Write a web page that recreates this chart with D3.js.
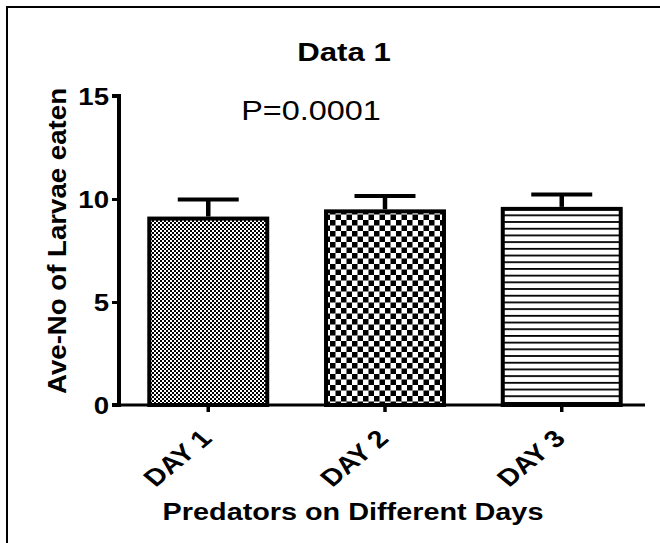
<!DOCTYPE html>
<html><head><meta charset="utf-8">
<script src="https://cdn.jsdelivr.net/npm/d3@7"></script>
<style>body{margin:0;background:#fff}svg{display:block;font-family:Arial,"Liberation Sans",sans-serif}</style>
</head><body>
<svg id="c" width="660" height="543"></svg>
<script>
const categories = ["DAY 1", "DAY 2", "DAY 3"];
const means = [9.05, 9.4, 9.52];
const errors = [0.93, 0.75, 0.7];
const yTicks = [0, 5, 10, 15];
const patterns = ["fineCheck", "bigCheck", "hLines"];

const SX = 1.2; // horizontal stretch of the reference text
const FONT = "Arial, 'Liberation Sans', sans-serif";
const svg = d3.select("#c");
const defs = svg.append("defs");
let p = defs.append("pattern").attr("id","fineCheck").attr("patternUnits","userSpaceOnUse").attr("width",4).attr("height",4);
p.append("rect").attr("width",4).attr("height",4).attr("fill","#fff");
p.append("rect").attr("width",2).attr("height",2).attr("fill","#000");
p.append("rect").attr("x",2).attr("y",2).attr("width",2).attr("height",2).attr("fill","#000");
p = defs.append("pattern").attr("id","bigCheck").attr("patternUnits","userSpaceOnUse").attr("width",11).attr("height",11);
p.append("rect").attr("width",11).attr("height",11).attr("fill","#fff");
p.append("rect").attr("width",5.5).attr("height",5.5).attr("fill","#000");
p.append("rect").attr("x",5.5).attr("y",5.5).attr("width",5.5).attr("height",5.5).attr("fill","#000");
p = defs.append("pattern").attr("id","hLines").attr("patternUnits","userSpaceOnUse").attr("width",8).attr("height",6.7);
p.append("rect").attr("width",8).attr("height",6.7).attr("fill","#fff");
p.append("rect").attr("y",0).attr("width",8).attr("height",1.8).attr("fill","#000");

// frame
svg.append("path").attr("d","M7,543 V7 H660").attr("fill","none").attr("stroke","#000").attr("stroke-width",2);

const x0 = 119, x1 = 645;
const x = d3.scaleBand().domain(categories).range([119, 651]).paddingInner(0.31).paddingOuter(0.16);
const y = d3.scaleLinear().domain([0, 15]).range([405, 96]);

const g = svg.append("g");
g.selectAll("rect.bar").data(categories).join("rect")
  .attr("class","bar")
  .attr("x", d => x(d) + 2)
  .attr("width", x.bandwidth() - 4)
  .attr("y", (d,i) => y(means[i]))
  .attr("height", (d,i) => y(0) - y(means[i]))
  .attr("fill", (d,i) => `url(#${patterns[i]})`)
  .attr("stroke","#000").attr("stroke-width",4);

categories.forEach((d,i) => {
  const cx = x(d) + x.bandwidth()/2;
  const top = y(means[i] + errors[i]);
  g.append("line").attr("x1",cx).attr("x2",cx).attr("y1",y(means[i])-2).attr("y2",top).attr("stroke","#000").attr("stroke-width",4.5);
  g.append("line").attr("x1",cx - x.bandwidth()/4).attr("x2",cx + x.bandwidth()/4).attr("y1",top).attr("y2",top).attr("stroke","#000").attr("stroke-width",4);
});

// y axis
const yAxis = d3.axisLeft(y).tickValues(yTicks).tickSize(7).tickPadding(3);
const ya = svg.append("g").attr("transform",`translate(${x0},0)`).call(yAxis);
ya.select(".domain").attr("stroke-width",4).attr("d",`M-7,${y(15)}H0V${y(0)}H-7`);
ya.selectAll(".tick line").attr("stroke-width",3);
ya.selectAll(".tick text").attr("font-size",23).attr("font-weight","bold").attr("fill","#000")
  .attr("font-family",FONT).attr("x",null).attr("dy","0.36em")
  .attr("transform",`translate(-10,0) scale(${SX},1)`);

// x axis
const xAxis = d3.axisBottom(x).tickSize(7).tickSizeOuter(0).tickPadding(4);
const xa = svg.append("g").attr("transform",`translate(0,${y(0)})`).call(xAxis);
xa.select(".domain").attr("stroke-width",3).attr("d",`M${x0-1},0H${x1}`);
xa.selectAll(".tick line").attr("stroke-width",3.5);
xa.selectAll(".tick text").attr("font-size",24).attr("font-weight","bold").attr("fill","#000")
  .attr("font-family",FONT).attr("text-anchor","end").attr("dy",0).attr("y",0)
  .attr("transform",`translate(5,35) scale(${SX},1) rotate(-45)`);

// titles
const txt = (tx, ty, size, weight, s, sx, rot) => svg.append("text")
  .attr("transform", `translate(${tx},${ty}) scale(${sx},1)` + (rot ? ` rotate(${rot})` : ""))
  .attr("text-anchor","middle").attr("font-size",size).attr("font-weight",weight).attr("font-family",FONT).text(s);
txt(344, 61, 26, "bold", "Data 1", SX);
txt(311, 120, 27, "normal", "P=0.0001", SX);
txt(66, 241, 25, "bold", "Ave-No of Larvae eaten", 1.05, -90).attr("textLength",306).attr("lengthAdjust","spacingAndGlyphs");
txt(353, 520, 24, "bold", "Predators on Different Days", SX);
</script>
</body></html>
